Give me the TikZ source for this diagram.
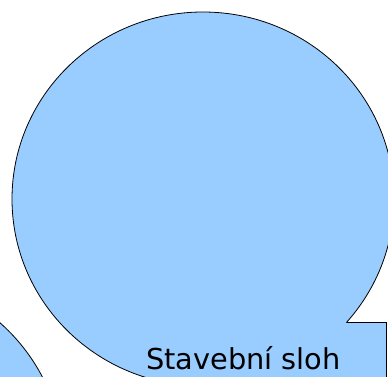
\documentclass[tikz,border=0pt]{standalone}
\usepackage{fontspec}
\setmainfont{DejaVu Sans}
\definecolor{shapeblue}{HTML}{99CCFF}
\begin{document}
\begin{tikzpicture}[x=1pt,y=-1pt, outl/.style={draw=black,line width=0.8pt}]
\useasboundingbox (0,0) rectangle (388,377);
\clip (0,0) rectangle (388,377);
% lower-left circle (partly visible)
\fill[shapeblue] (-126,465) circle (190);
\draw[outl] (-126,465) circle (190);
% big shape: ellipse merged with the text box
\fill[shapeblue] (203,199) ellipse [x radius=191, y radius=187];
\fill[shapeblue] (160,322) rectangle (386,400);
\begin{scope}[even odd rule]
  \clip (-10,-10) rectangle (400,400) (160,322) rectangle (386,400);
  \draw[outl] (203,199) ellipse [x radius=191, y radius=187];
\end{scope}
\begin{scope}[even odd rule]
  \clip (-10,-10) rectangle (400,400) (203,199) ellipse [x radius=191, y radius=187];
  \draw[outl] (160,400) -- (160,322) -- (386,322) -- (386,400);
\end{scope}
\node[anchor=base west, inner sep=0, font=\fontsize{28.8}{30}\selectfont] (label) at (146,369.3) {Stavební sloh};
\end{tikzpicture}
\end{document}
